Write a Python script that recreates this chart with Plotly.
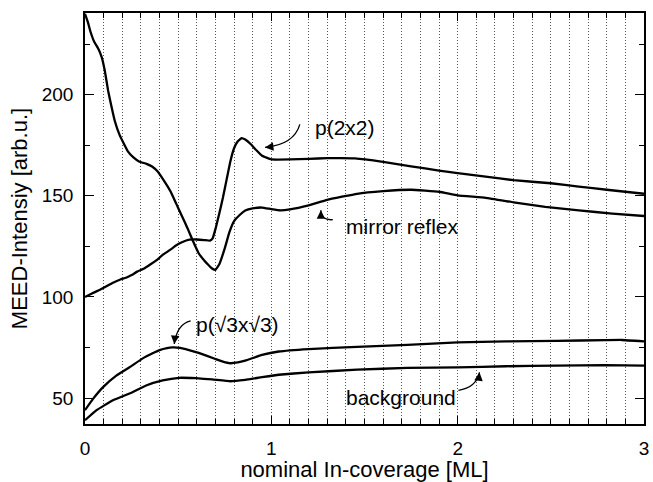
import plotly.graph_objects as go

# nominal In-coverage [ML] and MEED intensities [arb.u.]
p2x2_x = [0, 0.04, 0.08, 0.12, 0.15, 0.19, 0.22, 0.25, 0.28, 0.32, 0.35, 0.39, 0.42, 0.46,
          0.49, 0.52, 0.56, 0.60, 0.64, 0.67, 0.685, 0.70, 0.72, 0.74, 0.76, 0.78, 0.80,
          0.82, 0.84, 0.86, 0.89, 0.92, 0.95, 1.0, 1.1, 1.2, 1.3, 1.45, 1.6, 1.75, 1.9,
          2.0, 2.15, 2.3, 2.5, 2.65, 2.8, 3.0]
p2x2_y = [100, 101.8, 103.5, 105.5, 107, 108.6, 109.5, 110.8, 112.5, 114.2, 116, 118.6, 121, 123.5,
          125.5, 127, 128.3, 128.4, 128.1, 127.8, 129, 133.5, 141, 149, 158, 167, 173.5,
          177, 178.5, 177.8, 175.5, 172.5, 169.8, 168, 168, 168.3, 168.6, 168.5, 166.8, 164.6, 162.5,
          161.2, 159.5, 157.7, 156.2, 154.5, 153, 151]

mirror_x = [0, 0.015, 0.03, 0.05, 0.07, 0.09, 0.106, 0.124, 0.14, 0.16, 0.186, 0.21, 0.23,
            0.26, 0.29, 0.33, 0.36, 0.39, 0.42, 0.46, 0.49, 0.52, 0.55, 0.58, 0.61, 0.64,
            0.66, 0.68, 0.70, 0.72, 0.75, 0.775, 0.80, 0.83, 0.86, 0.90, 0.95, 1.0, 1.05,
            1.1, 1.2, 1.3, 1.46, 1.6, 1.75, 1.9, 2.0, 2.15, 2.3, 2.47, 2.65, 2.83, 3.0]
mirror_y = [240, 236, 231, 226, 223, 218.5, 212, 202, 195, 187, 180, 175.5, 172,
            169, 167, 165.8, 164.5, 162, 158, 152, 146, 140, 134, 127.5, 121.6, 118,
            116, 114.2, 113.4, 116, 124, 132, 137.5, 140.5, 142.7, 143.8, 144.2, 143.4, 142.8,
            143.3, 145.3, 148, 151, 152.3, 153, 152, 150.2, 149, 146.8, 144.5, 142.8, 141.2, 140]

sqrt3_x = [0, 0.044, 0.097, 0.168, 0.239, 0.31, 0.36, 0.40, 0.44, 0.47, 0.51, 0.54, 0.61,
           0.70, 0.74, 0.78, 0.82, 0.86, 0.95, 1.04, 1.2, 1.46, 1.73, 2.0, 2.26, 2.53,
           2.79, 2.88, 3.0]
sqrt3_y = [44, 49.7, 55.4, 61.1, 65.2, 69.6, 72, 73.7, 74.7, 75, 74.8, 74.2, 72.3,
           69.3, 68, 67.2, 67.6, 68.5, 71.3, 73, 74.2, 75.3, 76.3, 77.5, 78, 78.3,
           78.6, 78.7, 78]

backgr_x = [0, 0.062, 0.15, 0.239, 0.328, 0.417, 0.505, 0.594, 0.682, 0.78, 0.86,
            0.95, 1.04, 1.2, 1.46, 1.73, 2.0, 2.26, 2.53, 2.79, 3.0]
backgr_y = [39, 44, 48.9, 52.2, 56.2, 58.7, 60, 59.8, 59.2, 58.3, 59,
            60.3, 61.5, 62.7, 64, 64.9, 65.2, 65.7, 66, 66.3, 66]

x_ticks = [0, 1, 2, 3]
y_ticks = [50, 100, 150, 200]

FONT = "Liberation Sans, Arial, sans-serif"

fig = go.Figure()
for xs, ys in [(p2x2_x, p2x2_y), (mirror_x, mirror_y), (sqrt3_x, sqrt3_y), (backgr_x, backgr_y)]:
    fig.add_trace(go.Scatter(x=xs, y=ys, mode="lines",
                             line=dict(color="black", width=2.3, shape="spline", smoothing=0.3),
                             showlegend=False, hoverinfo="skip"))

# labels: (text, text x, text y, curve start, control, tip, arrow tail offset in px)
labels = [
    ("p(2x2)", 1.223, 183.7, (1.153, 185.3), (1.122, 175.3), (0.966, 173.9), (9, -1)),
    ("mirror reflex", 1.392, 134.7, (1.33, 138.2), (1.266, 137.7), (1.266, 142.8), (0, 9)),
    ("p(\u221a3x\u221a3)", 0.585, 86.5, (0.567, 88.1), (0.495, 86.6), (0.479, 76.7), (1, -9)),
    ("background", 1.392, 50.5, (2.004, 53.8), (2.10, 55.2), (2.117, 62.7), (-1, 9)),
]
for text, tx, ty, s, c, e, off in labels:
    fig.add_annotation(x=tx, y=ty, text=text, showarrow=False, xanchor="left", yanchor="middle",
                       font=dict(family=FONT, size=21, color="black"))
    fig.add_shape(type="path", xref="x", yref="y",
                  path=f"M {s[0]},{s[1]} Q {c[0]},{c[1]} {e[0]},{e[1]}",
                  line=dict(color="black", width=1.3))
    fig.add_annotation(x=e[0], y=e[1], text="", showarrow=True, ax=off[0], ay=off[1],
                       arrowhead=2, arrowsize=1.3, arrowwidth=1.3, arrowcolor="black")

axis_common = dict(showline=True, linecolor="black", linewidth=1.5, mirror="ticks",
                   ticks="inside", tickcolor="black", tickwidth=1.3, zeroline=False,
                   tickfont=dict(family=FONT, size=19, color="black"))

fig.update_xaxes(range=[0, 3], tickvals=x_ticks, ticklen=8, showgrid=True,
                 gridcolor="#555", griddash="1px,2px", gridwidth=1,
                 minor=dict(dtick=0.1, tick0=0, ticks="inside", ticklen=5, tickcolor="black",
                            showgrid=True, gridcolor="#555", griddash="1px,2px", gridwidth=1),
                 title=dict(text="nominal In-coverage [ML]", standoff=4,
                            font=dict(family=FONT, size=22, color="black")),
                 ticklabelstandoff=6, **axis_common)
fig.update_yaxes(range=[37.15, 240.4], tickvals=y_ticks, ticklen=9, showgrid=False,
                 minor=dict(dtick=25, tick0=0, ticks="inside", ticklen=5, tickcolor="black",
                            showgrid=False),
                 title=dict(text="MEED-Intensiy [arb.u.]", standoff=8,
                            font=dict(family=FONT, size=22, color="black")),
                 ticklabelstandoff=6, **axis_common)

fig.update_layout(width=653, height=482, margin=dict(l=85, r=4, t=13, b=53),
                  plot_bgcolor="white", paper_bgcolor="white",
                  font=dict(family=FONT, color="black"))

fig.write_html("out.html")
